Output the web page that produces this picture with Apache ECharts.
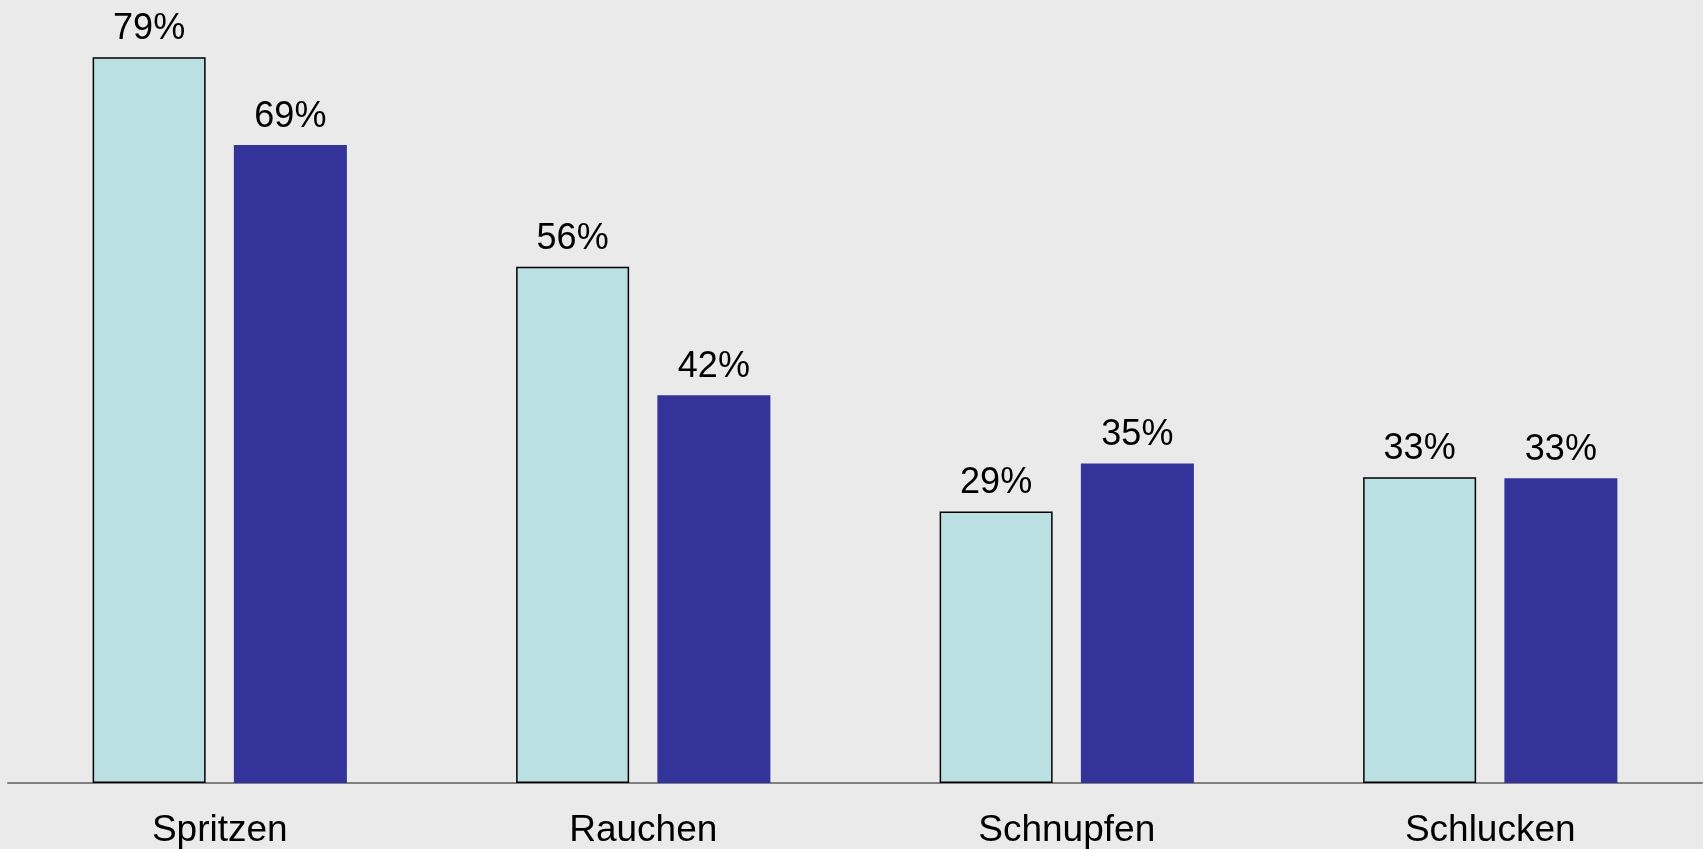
<!DOCTYPE html>
<html>
<head>
<meta charset="utf-8">
<script src="https://cdn.jsdelivr.net/npm/echarts@6/dist/echarts.min.js"></script>
<style>
html,body{margin:0;padding:0;background:#eaeaea;}
#chart{width:1703px;height:849px;}
</style>
</head>
<body>
<div id="chart"></div>
<script>
// Kategorien und Werte (Prozent)
var categories = ['Spritzen', 'Rauchen', 'Schnupfen', 'Schlucken'];
var seriesLight = [78.6, 55.9, 29.4, 33.1];
var seriesDark = [69.1, 42.0, 34.6, 33.0];

var chart = echarts.init(document.getElementById('chart'));

var labelOpt = {
    show: true,
    position: 'top',
    distance: 10,
    color: '#000',
    fontFamily: 'Liberation Sans, Arial, sans-serif',
    fontSize: 36,
    formatter: function (p) { return Math.round(p.value) + '%'; }
};

var option = {
    backgroundColor: '#eaeaea',
    animation: false,
    grid: { left: 8, right: 1, top: 0, bottom: 66, containLabel: false },
    xAxis: {
        type: 'category',
        data: categories,
        axisLine: { show: true, lineStyle: { color: '#808080', width: 2 } },
        axisTick: { show: false },
        axisLabel: {
            color: '#000',
            fontFamily: 'Liberation Sans, Arial, sans-serif',
            fontSize: 37,
            margin: 29
        }
    },
    yAxis: {
        type: 'value',
        min: 0,
        max: 84.8,
        show: false,
        splitLine: { show: false }
    },
    series: [
        {
            type: 'bar',
            data: seriesLight,
            barWidth: 113,
            barGap: '25%',
            itemStyle: { color: '#bbe0e3', borderColor: '#000', borderWidth: 1.5 },
            label: labelOpt
        },
        {
            type: 'bar',
            data: seriesDark,
            barWidth: 113,
            itemStyle: { color: '#333399' },
            label: labelOpt
        }
    ]
};

chart.setOption(option);
</script>
</body>
</html>
